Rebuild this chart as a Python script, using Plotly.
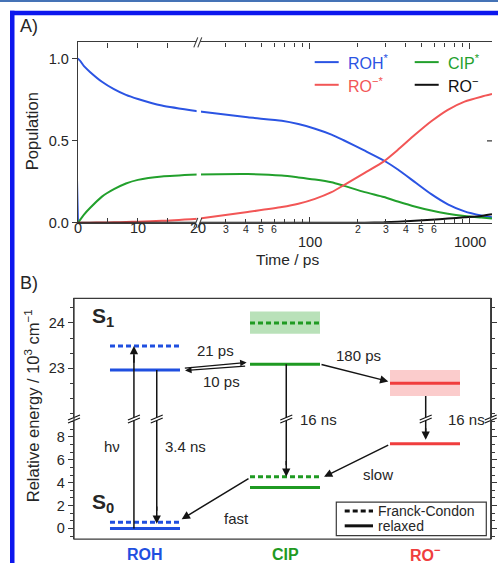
import math
import plotly.graph_objects as go

W, H = 498, 571


def px(x):
    return x / W


def py(y):
    return 1 - y / H


FONT = "Liberation Sans, Arial, sans-serif"
INK = "#262626"
AX = "#3a3a3a"

# ---------------- Panel A data ----------------
t_ps = [0, 0, 1, 2, 4, 6, 8, 10, 14, 20,
        41, 67, 85, 108, 137, 162, 221, 291, 356, 453, 576, 731, 930, 1183, 1380]
pop_roh = [0, 1.0, 0.955, 0.92, 0.86, 0.815, 0.78, 0.755, 0.715, 0.68,
           0.643, 0.622, 0.602, 0.574, 0.538, 0.505, 0.44, 0.38, 0.325, 0.25,
           0.175, 0.113, 0.07, 0.045, 0.034]
pop_cip = [0, 0, 0.05, 0.09, 0.16, 0.205, 0.24, 0.262, 0.283, 0.295,
           0.297, 0.288, 0.277, 0.264, 0.247, 0.227, 0.187, 0.157, 0.13, 0.10,
           0.075, 0.056, 0.042, 0.032, 0.026]
pop_ro_star = [0, 0, 0, 0.001, 0.002, 0.003, 0.005, 0.007, 0.012, 0.025,
               0.066, 0.096, 0.116, 0.146, 0.187, 0.227, 0.305, 0.375, 0.445, 0.535,
               0.619, 0.689, 0.739, 0.769, 0.785]
pop_ro = [0, 0, 0, 0, 0, 0, 0, 0, 0, 0,
          0, 0, 0, 0, 0, 0, 0.001, 0.003, 0.007, 0.012,
          0.019, 0.026, 0.034, 0.042, 0.052]
series_names = ["ROH<sup>*</sup>", "CIP<sup>*</sup>", "RO<sup>−*</sup>", "RO<sup>−</sup>"]
series_values = [pop_roh, pop_cip, pop_ro_star, pop_ro]
series_colors = ["#2b54e3", "#22a02c", "#f25656", "#111111"]

lin_ticks = [0, 5, 10, 15, 20]
lin_tick_labels = ["0", "", "10", "", "20"]
log_major = [100, 1000]
log_major_labels = ["100", "1000"]
log_minor = [30, 40, 50, 60, 70, 80, 90, 200, 300, 400, 500, 600, 700, 800, 900]
log_minor_labels = ["3", "4", "5", "6", "", "", "", "2", "3", "4", "5", "6", "", "", ""]
pop_ticks = [0.0, 0.5, 1.0]
pop_tick_labels = ["0.0", "0.5", "1.0"]
T_BREAK = 20
T_MAX = 1380

# ---------------- Panel B data ----------------
states = ["ROH", "CIP", "RO<sup>−</sup>"]
state_pos = [0, 1, 2]
state_colors = ["#1f4fe0", "#1f9a22", "#f03e3e"]
band_colors = ["rgba(0,0,0,0)", "rgba(70,175,70,0.38)", "rgba(245,120,120,0.38)"]
s1_relaxed = [22.96, 23.09, 22.67]
s1_franck_condon = [23.49, 24.0, None]
s1_band_low = [None, 23.76, 22.39]
s1_band_high = [None, 24.25, 22.96]
s0_relaxed = [0.0, 3.57, 7.4]
s0_franck_condon = [0.55, 4.52, None]
upper_ticks = [23, 24]
lower_ticks = [0, 2, 4, 6, 8]

# ---------------- geometry (pixels) ----------------
A_L, A_R, A_T, A_B, A_BRK = 78, 492, 43, 226, 197.8
B_L, B_R, B_T, B_B, B_BRK = 74, 490.7, 302.7, 546.7, 425
X3_RANGE = [-0.5071, 2.4693]
Y3_RANGE = [21.88, 24.54]
Y4_RANGE = [-0.93, 9.57]
HALF = 0.25

fig = go.Figure()

# ---- Panel A curves ----
lin_idx = [i for i, t in enumerate(t_ps) if t <= T_BREAK]
log_idx = [i for i, t in enumerate(t_ps) if t >= T_BREAK]
for name, vals, col in zip(series_names, series_values, series_colors):
    fig.add_trace(go.Scatter(x=[t_ps[i] for i in lin_idx], y=[vals[i] for i in lin_idx],
                             xaxis="x", yaxis="y", mode="lines", name=name, showlegend=False,
                             line=dict(color=col, width=2, shape="spline", smoothing=0.6)))
    fig.add_trace(go.Scatter(x=[t_ps[i] for i in log_idx], y=[vals[i] for i in log_idx],
                             xaxis="x2", yaxis="y", mode="lines", name=name, showlegend=False,
                             line=dict(color=col, width=2, shape="spline", smoothing=0.6)))

# ---- Panel B levels ----
def level(pos, val, yref, color, dash):
    if val is None:
        return
    fig.add_trace(go.Scatter(x=[pos - HALF, pos + HALF], y=[val, val], xaxis="x3", yaxis=yref,
                             mode="lines", showlegend=False,
                             line=dict(color=color, width=3, dash=dash)))


for i, pos in enumerate(state_pos):
    c = state_colors[i]
    level(pos, s1_relaxed[i], "y3", c, "solid")
    level(pos, s1_franck_condon[i], "y3", c, "5px,3px")
    level(pos, s0_relaxed[i], "y4", c, "solid")
    level(pos, s0_franck_condon[i], "y4", c, "5px,3px")

ARROW = "#141414"
annotations = []
shapes = []


def arrow(x, y, ax, ay, yref, width=1.5, size=1.1, standoff=0):
    annotations.append(dict(x=x, y=y, ax=ax, ay=ay, xref="x3", yref=yref, axref="x3", ayref=yref,
                            text="", showarrow=True, arrowhead=2, arrowsize=size,
                            arrowwidth=width, arrowcolor=ARROW, standoff=standoff))


def shaft(x, ys, yref):
    fig.add_trace(go.Scatter(x=[x, x], y=ys, xaxis="x3", yaxis=yref, mode="lines",
                             showlegend=False, line=dict(color=ARROW, width=1.5)))


def break_mark_v(xref, xanchor, yanchor):
    # "//" across a vertical line
    shapes.append(dict(type="path", xref=xref, yref="paper", xsizemode="pixel", ysizemode="pixel",
                       xanchor=xanchor, yanchor=yanchor, path="M -6 -4 L 6 1 L 6 4 L -6 -1 Z",
                       fillcolor="white", line=dict(width=0), layer="above"))
    for p in ["M -6 -4 L 6 1", "M -6 -1 L 6 4"]:
        shapes.append(dict(type="path", xref=xref, yref="paper", xsizemode="pixel", ysizemode="pixel",
                           xanchor=xanchor, yanchor=yanchor, path=p,
                           line=dict(color=ARROW, width=1.1), layer="above"))


def break_mark_h(xanchor, yanchor):
    shapes.append(dict(type="path", xref="paper", yref="paper", xsizemode="pixel", ysizemode="pixel",
                       xanchor=xanchor, yanchor=yanchor, path="M -4 -5 L 0 -5 L 4 5 L 0 5 Z",
                       fillcolor="white", line=dict(width=0), layer="above"))
    for p in ["M -4 -5 L 0 5", "M 0 -5 L 4 5"]:
        shapes.append(dict(type="path", xref="paper", yref="paper", xsizemode="pixel", ysizemode="pixel",
                           xanchor=xanchor, yanchor=yanchor, path=p,
                           line=dict(color=AX, width=1.1), layer="above"))


# vertical transitions crossing the break
x_hv, x_rad, x_cip, x_ro = state_pos[0] - 0.079, state_pos[0] + 0.084, state_pos[1] + 0.009, state_pos[2] + 0.005
# h nu (up)
shaft(x_hv, [s0_relaxed[0], Y4_RANGE[1]], "y4")
shaft(x_hv, [Y3_RANGE[0], s1_franck_condon[0] - 0.2], "y3")
arrow(x_hv, s1_franck_condon[0], x_hv, s1_franck_condon[0] - 0.4, "y3")
# 3.4 ns (down)
shaft(x_rad, [s1_relaxed[0], Y3_RANGE[0]], "y3")
shaft(x_rad, [Y4_RANGE[1], s0_franck_condon[0] + 1], "y4")
arrow(x_rad, s0_franck_condon[0] - 0.15, x_rad, s0_franck_condon[0] + 1.5, "y4")
# CIP 16 ns
shaft(x_cip, [s1_relaxed[1], Y3_RANGE[0]], "y3")
shaft(x_cip, [Y4_RANGE[1], s0_franck_condon[1] + 1], "y4")
arrow(x_cip, s0_franck_condon[1], x_cip, s0_franck_condon[1] + 1.5, "y4")
# RO- 16 ns
shaft(x_ro, [s1_band_low[2], Y3_RANGE[0]], "y3")
shaft(x_ro, [Y4_RANGE[1], s0_relaxed[2] + 1], "y4")
arrow(x_ro, s0_relaxed[2], x_ro, s0_relaxed[2] + 1.5, "y4", standoff=4)

# oblique transitions
arrow(0.726, 23.13, 0.274, s1_relaxed[0] + 0.04, "y3", width=1.3, size=1.0)        # 21 ps
arrow(0.286, 22.95, 0.726, s1_relaxed[1] - 0.04, "y3", width=1.3, size=1.0)        # 10 ps
arrow(1.738, 22.71, state_pos[1] + HALF, s1_relaxed[1], "y3")                      # 180 ps
arrow(state_pos[1] + 0.279, s0_franck_condon[1], state_pos[2] - 0.252, s0_relaxed[2] - 0.05, "y4")  # slow
arrow(state_pos[0] + 0.262, 0.81, state_pos[1] - 0.25, 4.43, "y4")                 # fast

for xa in [x_hv, x_rad, x_cip, x_ro]:
    break_mark_v("x3", xa, py(B_BRK))
break_mark_v("paper", px(B_L), py(B_BRK))
break_mark_v("paper", px(B_R), py(B_BRK))

# bands (S1 relaxation ranges)
for i, pos in enumerate(state_pos):
    if s1_band_low[i] is not None:
        shapes.append(dict(type="rect", xref="x3", yref="y3", x0=pos - HALF, x1=pos + HALF,
                           y0=s1_band_low[i], y1=s1_band_high[i], fillcolor=band_colors[i],
                           line=dict(width=0), layer="below"))

# Panel A: break gap and marks
shapes.append(dict(type="rect", xref="paper", yref="paper", x0=px(A_BRK - 1.2), x1=px(A_BRK + 3.2),
                   y0=py(A_B - 1.5), y1=py(A_T + 1.5), fillcolor="white", line=dict(width=0), layer="above"))
break_mark_h(px(A_BRK), py(A_T))
break_mark_h(px(A_BRK), py(A_B))
# right-side tick of panel A
shapes.append(dict(type="line", xref="paper", yref="y", x0=px(A_R - 5), x1=px(A_R), y0=0.5, y1=0.5,
                   line=dict(color=AX, width=1.2)))

# Panel B frame
shapes.append(dict(type="rect", xref="paper", yref="paper", x0=px(B_L), x1=px(B_R), y0=py(B_B), y1=py(B_T),
                   line=dict(color=AX, width=1.3), fillcolor="rgba(0,0,0,0)", layer="above"))

# Panel B legend box
shapes.append(dict(type="rect", xref="paper", yref="paper", x0=px(336.3), x1=px(486.3), y0=py(543.3),
                   y1=py(509.3), line=dict(color=AX, width=1.2), fillcolor="white", layer="above"))
shapes.append(dict(type="line", xref="paper", yref="paper", x0=px(344.7), x1=px(373), y0=py(518.3),
                   y1=py(518.3), line=dict(color="#111", width=3, dash="5px,3px"), layer="above"))
shapes.append(dict(type="line", xref="paper", yref="paper", x0=px(344.7), x1=px(373), y0=py(533.3),
                   y1=py(533.3), line=dict(color="#111", width=3), layer="above"))


def txt(x, y, text, xref="paper", yref="paper", size=15, color=INK, xanchor="center", **kw):
    d = dict(x=x, y=y, xref=xref, yref=yref, text=text, showarrow=False,
             xanchor=xanchor, yanchor="middle",
             font=dict(size=size, color=color, family=FONT))
    d.update(kw)
    annotations.append(d)


# Panel A legend samples
leg_pos = [(314.7, 63), (414.7, 63), (314.7, 86), (414.7, 86)]
for (lx, ly), col, name in zip(leg_pos, series_colors, series_names):
    shapes.append(dict(type="line", xref="paper", yref="paper", x0=px(lx), x1=px(lx + 24),
                       y0=py(ly), y1=py(ly), line=dict(color=col, width=2)))
    txt(px(lx + 31), py(ly), name, size=16, color=col, xanchor="left")

# outer frame
shapes.append(dict(type="rect", xref="paper", yref="paper", x0=0, x1=1, y0=py(2), y1=1,
                   fillcolor="#4573b6", line=dict(width=0)))
shapes.append(dict(type="rect", xref="paper", yref="paper", x0=px(10), x1=1, y0=py(15.5), y1=py(11),
                   fillcolor="#0d17ee", line=dict(width=0)))
shapes.append(dict(type="rect", xref="paper", yref="paper", x0=px(10), x1=px(14.5), y0=0, y1=py(11),
                   fillcolor="#0d17ee", line=dict(width=0)))

# Panel A texts
txt(px(29), py(26), "A)", size=18)
txt(px(29), py(287), "B)", size=18)
txt(px(32), py(133), "Population", size=16.5, textangle=-90)
txt(px(287), py(263), "Time / ps", size=15.5)
for v, lab in zip(lin_ticks, lin_tick_labels):
    if lab:
        txt(v, py(231), lab, xref="x", size=14.5)
for v, lab in zip(log_major, log_major_labels):
    txt(math.log10(v), py(245), lab, xref="x2", size=14.5)
for v, lab in zip(log_minor, log_minor_labels):
    if lab:
        txt(math.log10(v), py(232), lab, xref="x2", size=10.5)

# Panel B texts
txt(px(32), py(412), "Relative energy / 10<sup>3</sup> cm<sup>−1</sup>", size=16.5, textangle=-90)
txt(-0.3, 24.13, "<b>S<sub>1</sub></b>", xref="x3", yref="y3", size=21)
txt(-0.3, 2.26, "<b>S<sub>0</sub></b>", xref="x3", yref="y4", size=21)
txt(0.5, 23.39, "21 ps", xref="x3", yref="y3")
txt(0.548, 22.71, "10 ps", xref="x3", yref="y3")
txt(1.524, 23.29, "180 ps", xref="x3", yref="y3")
txt(1.236, py(425.7), "16 ns", xref="x3")
txt(2.295, py(425.7), "16 ns", xref="x3")
txt(-0.238, 7.19, "hν", xref="x3", yref="y4")
txt(0.286, 7.19, "3.4 ns", xref="x3", yref="y4")
txt(1.664, 4.72, "slow", xref="x3", yref="y4")
txt(0.655, 0.87, "fast", xref="x3", yref="y4")
txt(px(376.3), py(518), "Franck-Condon", size=14, xanchor="left")
txt(px(376.3), py(533.3), "relaxed", size=14, xanchor="left")
for pos, name, col in zip(state_pos, states, state_colors):
    txt(pos, py(562), "<b>" + name + "</b>", xref="x3", size=16, color=col)

axis_common = dict(showgrid=False, zeroline=False, fixedrange=True, linecolor=AX, tickcolor=AX,
                   tickfont=dict(size=14.5, color=INK, family=FONT))

fig.update_layout(
    width=W, height=H, autosize=False,
    margin=dict(l=0, r=0, t=0, b=0),
    paper_bgcolor="white", plot_bgcolor="rgba(0,0,0,0)",
    font=dict(family=FONT, color=INK),
    showlegend=False,
    xaxis=dict(domain=[px(A_L), px(A_BRK)], range=[0, T_BREAK], anchor="y", showline=True, linewidth=1.3,
               mirror="ticks", ticks="inside", ticklen=5, tickvals=lin_ticks, showticklabels=False,
               **axis_common),
    xaxis2=dict(domain=[px(A_BRK), px(A_R)], type="log", range=[math.log10(T_BREAK), math.log10(T_MAX)],
                anchor="y", showline=True, linewidth=1.3, mirror="ticks", ticks="inside", ticklen=6,
                tickvals=log_major, showticklabels=False,
                minor=dict(tickvals=log_minor, ticklen=4, ticks="inside", tickcolor=AX),
                **axis_common),
    yaxis=dict(domain=[py(A_B), py(A_T)], range=[0, 1.10], anchor="x", showline=True, linewidth=1.3,
               ticks="outside", ticklen=5, tickvals=pop_ticks, ticktext=pop_tick_labels, **axis_common),
    xaxis3=dict(domain=[px(B_L), px(B_R)], range=X3_RANGE, anchor="y4", showline=False,
                showticklabels=False, ticks="", **axis_common),
    yaxis3=dict(domain=[py(B_BRK), py(B_T)], range=Y3_RANGE, anchor="x3", showline=True, linewidth=1.3,
                mirror="ticks", ticks="outside", ticklen=5, tickvals=upper_ticks,
                minor=dict(tick0=23, dtick=1 / 3, ticklen=3, ticks="outside", tickcolor=AX),
                **axis_common),
    yaxis4=dict(domain=[py(B_B), py(B_BRK)], range=Y4_RANGE, anchor="x3", showline=True, linewidth=1.3,
                mirror="ticks", ticks="outside", ticklen=5, tickvals=lower_ticks,
                minor=dict(tick0=0, dtick=2 / 3, ticklen=3, ticks="outside", tickcolor=AX),
                **axis_common),
    shapes=shapes,
    annotations=annotations,
)

fig.write_html("out.html", config={"displayModeBar": False},
               post_script="document.body.style.margin='0';document.body.style.overflow='hidden';")
